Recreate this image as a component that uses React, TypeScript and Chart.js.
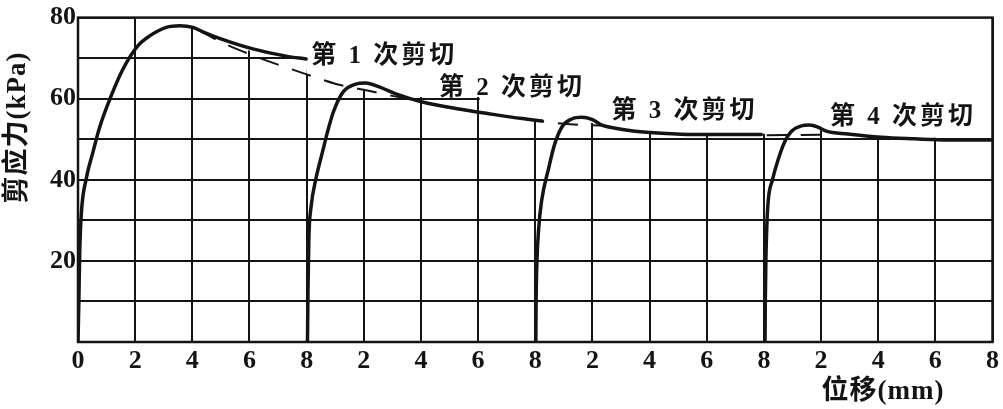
import React, { useEffect, useRef } from 'react';
import { Chart, registerables } from 'chart.js';

Chart.register(...registerables);

// ---- data ----
const xTickLabels = ['0', '2', '4', '6', '8', '2', '4', '6', '8', '2', '4', '6', '8', '2', '4', '6', '8'];
const yTickLabels = ['', '', '20', '', '40', '', '60', '', '80'];

// shear stress (kPa) vs cumulative displacement (mm), four successive cuts
const cut1: [number, number][] = [
  [0, 0], [0.03, 10], [0.06, 22], [0.12, 32], [0.28, 40], [0.53, 47], [0.75, 52.8], [1.12, 60],
  [1.58, 67.4], [2.1, 73.1], [2.51, 75.5], [3.09, 77.6], [3.56, 78], [4.02, 77.6], [4.37, 76.5],
  [4.95, 74.9], [6.12, 72.3], [7.28, 70.5], [7.98, 69.8],
];
const cut2: [number, number][] = [
  [8.03, 0], [8.05, 14], [8.08, 26], [8.15, 33], [8.33, 40.4], [8.56, 47], [8.72, 51.5],
  [8.93, 56.6], [9.26, 61.5], [9.72, 63.6], [10.07, 63.9], [10.54, 62.9], [11.12, 61.2],
  [12.05, 59.2], [13.21, 57.6], [14.38, 56.3], [15.54, 55.1], [16.24, 54.5],
];
const cut3: [number, number][] = [
  [16.02, 0], [16.03, 10], [16.06, 20], [16.12, 28], [16.22, 34.7], [16.47, 42.9], [16.68, 48.8],
  [16.95, 53.2], [17.28, 55.0], [17.63, 55.4], [17.98, 54.9], [18.33, 53.5], [18.8, 52.7],
  [19.49, 52.0], [20.42, 51.5], [21.59, 51.2], [22.75, 51.2], [23.91, 51.2],
];
const cut4: [number, number][] = [
  [24.04, 0], [24.05, 10], [24.07, 20], [24.1, 28], [24.15, 34.7], [24.3, 40], [24.5, 45],
  [24.73, 49.4], [24.96, 51.9], [25.31, 53.3], [25.6, 53.5], [25.89, 53.0], [26.18, 52.0],
  [26.94, 51.3], [28.1, 50.5], [29.26, 50.1], [30.43, 49.8], [32, 49.8],
];
// dashed residual trend
const trendA: [number, number][] = [
  [4.2, 77.0], [5.0, 74.0], [6.0, 71.0], [7.0, 68.4], [8.0, 66.0], [9.0, 63.7], [10.0, 62.2],
  [11.0, 60.7], [12.0, 59.3], [13.0, 57.9], [14.0, 56.7], [15.0, 55.6], [16.0, 54.7],
  [17.0, 53.8], [18.3, 53.4],
];
const trendB: [number, number][] = [[24.1, 51.0], [25.2, 51.05], [26.2, 51.1]];
// upper limit of the drawn grid (grid is blank above this)
const gridCeiling: [number, number][] = [
  [0, 80], [2.04, 80], [2.08, 73.6], [2.5, 75.7], [3.09, 77.8], [3.56, 78.2], [4.02, 77.8],
  [4.3, 77.0], [5.0, 74.3], [6.0, 71.8], [6.8, 70.4], [7.96, 70.4], [7.99, 66.2], [9.0, 63.8],
  [10.0, 62.3], [11.0, 60.8], [11.35, 60.4], [14.05, 60.4], [14.1, 56.5], [15.54, 55.3],
  [16.3, 54.7], [17.0, 53.9], [18.0, 54.0], [18.33, 53.7], [18.8, 52.9], [19.49, 52.2],
  [20.42, 51.7], [21.59, 51.4], [23.91, 51.4], [24.2, 51.2], [25.3, 51.2], [25.8, 52.2],
  [26.18, 52.2], [26.94, 51.5], [28.1, 50.7], [29.26, 50.4], [32, 50.4],
];
const cutLabels = ['第 1 次剪切', '第 2 次剪切', '第 3 次剪切', '第 4 次剪切'];
const cutLabelAnchors: [number, number][] = [[8.16, 70.5], [12.63, 62.6], [18.67, 56.8], [26.31, 55.4]];
const xTitle = '位移(mm)';
const yTitle = '剪应力(kPa)';

const INK = '#141414';
const FONT = "'Liberation Serif', 'Noto Sans CJK SC', serif";

const pts = (a: [number, number][]) => a.map(([x, y]) => ({ x, y }));

const textPlugin = {
  id: 'frameAndText',
  afterDatasetsDraw(chart: any) {
    const { ctx, chartArea: a, scales } = chart;
    ctx.save();
    ctx.strokeStyle = INK;
    ctx.lineWidth = 2.5;
    ctx.strokeRect(a.left, a.top, a.right - a.left, a.bottom - a.top);
    ctx.fillStyle = INK;
    ctx.font = `bold 25px ${FONT}`;
    ctx.textAlign = 'left';
    ctx.textBaseline = 'middle';
    (ctx as any).letterSpacing = '3px';
    cutLabels.forEach((t, i) => {
      const [vx, vy] = cutLabelAnchors[i];
      ctx.fillText(t, scales.x.getPixelForValue(vx), scales.y.getPixelForValue(vy));
    });
    ctx.font = `bold 27px ${FONT}`;
    (ctx as any).letterSpacing = '1px';
    ctx.textAlign = 'right';
    ctx.fillText(xTitle, a.right - 48, a.bottom + 50);
    ctx.translate(a.left - 60, a.top + 110);
    ctx.rotate(-Math.PI / 2);
    ctx.textAlign = 'center';
    ctx.fillText(yTitle, 0, 0);
    ctx.restore();
  },
};

export default function App() {
  const ref = useRef<HTMLCanvasElement>(null);
  useEffect(() => {
    if (!ref.current) return;
    const lineStyle = {
      borderColor: INK,
      borderWidth: 3.5,
      pointRadius: 0,
      fill: false,
      cubicInterpolationMode: 'monotone' as const,
      borderCapStyle: 'round' as const,
      borderJoinStyle: 'round' as const,
      order: 1,
    };
    const dashStyle = {
      borderColor: INK,
      borderWidth: 2,
      pointRadius: 0,
      fill: false,
      borderDash: [20, 14],
      cubicInterpolationMode: 'monotone' as const,
      order: 2,
    };
    const chart = new Chart(ref.current, {
      type: 'line',
      data: {
        datasets: [
          { ...lineStyle, data: pts(cut1) },
          { ...lineStyle, data: pts(cut2) },
          { ...lineStyle, data: pts(cut3) },
          { ...lineStyle, data: pts(cut4) },
          { ...dashStyle, data: pts(trendA) },
          { ...dashStyle, data: pts(trendB) },
          {
            data: pts(gridCeiling),
            borderWidth: 0,
            borderColor: 'rgba(0,0,0,0)',
            pointRadius: 0,
            fill: 'end',
            backgroundColor: '#ffffff',
            tension: 0,
            order: 10,
          },
        ],
      },
      options: {
        responsive: false,
        animation: false,
        events: [],
        layout: { padding: { top: 15, right: 8, left: 0, bottom: 0 } },
        plugins: { legend: { display: false }, tooltip: { enabled: false } },
        scales: {
          x: {
            type: 'linear',
            min: 0,
            max: 32,
            border: { display: false },
            grid: { color: INK, lineWidth: 2, drawTicks: false },
            ticks: {
              stepSize: 2,
              autoSkip: false,
              maxRotation: 0,
              padding: 4,
              color: INK,
              font: { family: FONT, size: 26, weight: 'bold' },
              callback: (_v: any, i: number) => xTickLabels[i],
            },
            afterFit: (s: any) => { s.height = 67; },
          },
          y: {
            type: 'linear',
            min: 0,
            max: 80,
            border: { display: false },
            grid: { color: INK, lineWidth: 2, drawTicks: false },
            ticks: {
              stepSize: 10,
              autoSkip: false,
              padding: 2,
              color: INK,
              font: { family: FONT, size: 26, weight: 'bold' },
              callback: (_v: any, i: number) => yTickLabels[i],
            },
            afterFit: (s: any) => { s.width = 78; },
          },
        },
      },
      plugins: [textPlugin],
    });
    return () => chart.destroy();
  }, []);
  return (
    <div style={{ position: 'absolute', left: 0, top: 0, width: 1003, height: 409, background: '#fff' }}>
      <canvas ref={ref} width={1003} height={409} style={{ display: 'block' }} />
    </div>
  );
}
